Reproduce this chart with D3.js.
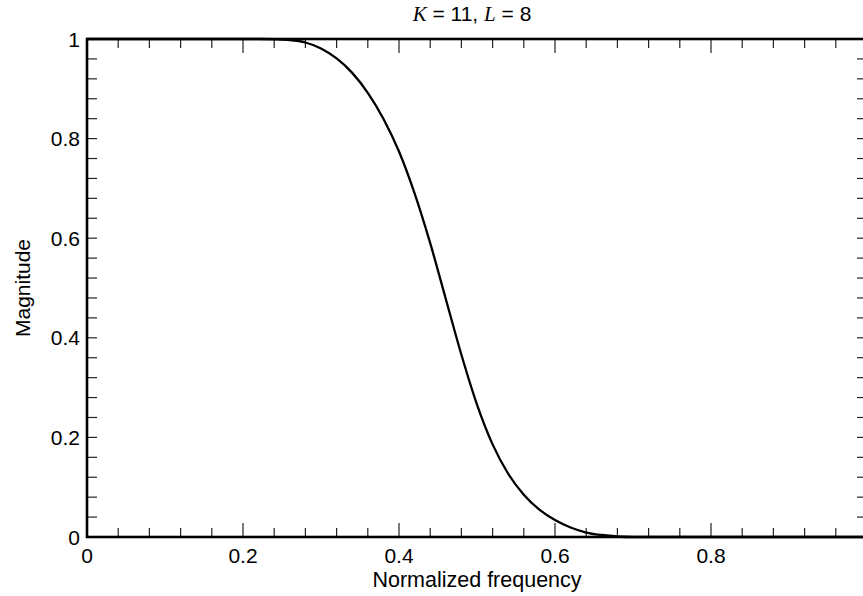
<!DOCTYPE html>
<html>
<head>
<meta charset="utf-8">
<script src="https://cdn.jsdelivr.net/npm/d3@7"></script>
<style>
  body { margin: 0; background: #fff; }
  text { font-family: "Liberation Sans", Arial, Helvetica, sans-serif; fill: #000; }
</style>
</head>
<body>
<svg id="chart"></svg>
<script>
// chart size
var width = 863,
    height = 596;

// data
var freq = [0, 0.10, 0.20, 0.22, 0.24, 0.26, 0.28, 0.30, 0.32, 0.34, 0.36, 0.38, 0.40, 0.42, 0.44,
    0.46, 0.48, 0.50, 0.52, 0.54, 0.56, 0.58, 0.60, 0.62, 0.64, 0.66, 0.68, 0.70, 0.80, 0.90, 1.0];
var magnitude = [1, 1, 1, 1, 0.9995, 0.998, 0.993, 0.981, 0.961, 0.932, 0.892, 0.840, 0.774, 0.690, 0.590,
    0.478, 0.366, 0.266, 0.186, 0.127, 0.085, 0.055, 0.034, 0.019, 0.009, 0.004, 0.001, 0, 0, 0, 0];

// ticks
var xMajor = [0, 0.2, 0.4, 0.6, 0.8];
var xLabels = ["0", "0.2", "0.4", "0.6", "0.8"];
var yMajor = [0, 0.2, 0.4, 0.6, 0.8, 1];
var yLabels = ["0", "0.2", "0.4", "0.6", "0.8", "1"];
var minorStep = 0.04;

var svg = d3.select("#chart")
    .attr("width", width)
    .attr("height", height);

// scales
var x = d3.scaleLinear().domain([0, 1]).range([87, 867]);
var y = d3.scaleLinear().domain([0, 1]).range([537, 39]);

var minorTicks = d3.range(0, 1.0001, minorStep).map(function (d) { return +d.toFixed(2); });
function isMajor(v) { return xMajor.concat([1]).some(function (m) { return Math.abs(m - v) < 1e-6; }); }

var ticks = svg.append("g").attr("stroke", "#222").attr("stroke-width", 1.2);

// bottom and top ticks (pointing inside)
minorTicks.forEach(function (v) {
    var len = isMajor(v) ? 14 : 9;
    ticks.append("line")
        .attr("x1", x(v)).attr("x2", x(v))
        .attr("y1", y(0)).attr("y2", y(0) - len);
    ticks.append("line")
        .attr("x1", x(v)).attr("x2", x(v))
        .attr("y1", y(1)).attr("y2", y(1) + len);
});

// left and right ticks
minorTicks.forEach(function (v) {
    ticks.append("line")
        .attr("x1", x(0)).attr("x2", x(0) + 10)
        .attr("y1", y(v)).attr("y2", y(v));
    ticks.append("line")
        .attr("x1", x(1)).attr("x2", x(1) - 10)
        .attr("y1", y(v)).attr("y2", y(v));
});

// the curve
var line = d3.line()
    .x(function (d, i) { return x(freq[i]); })
    .y(function (d) { return y(d); })
    .curve(d3.curveMonotoneX);

svg.append("path")
    .datum(magnitude)
    .attr("d", line)
    .attr("fill", "none")
    .attr("stroke", "#000")
    .attr("stroke-width", 2.3);

// frame
svg.append("rect")
    .attr("x", x(0)).attr("y", y(1))
    .attr("width", x(1) - x(0)).attr("height", y(0) - y(1))
    .attr("fill", "none")
    .attr("stroke", "#000")
    .attr("stroke-width", 2.6);

// tick labels
svg.selectAll(".xlab")
    .data(xMajor)
    .enter().append("text")
    .attr("class", "xlab")
    .attr("x", function (d) { return x(d); })
    .attr("y", 563)
    .attr("text-anchor", "middle")
    .style("font-size", "21px")
    .text(function (d, i) { return xLabels[i]; });

svg.selectAll(".ylab")
    .data(yMajor)
    .enter().append("text")
    .attr("class", "ylab")
    .attr("x", 80)
    .attr("y", function (d) { return y(d) + 7.5; })
    .attr("text-anchor", "end")
    .style("font-size", "21px")
    .text(function (d, i) { return yLabels[i]; });

// axis titles
svg.append("text")
    .attr("x", (x(0) + x(1)) / 2)
    .attr("y", 587)
    .attr("text-anchor", "middle")
    .style("font-size", "21.5px")
    .text("Normalized frequency");

svg.append("text")
    .attr("transform", "translate(30," + (y(0) + y(1)) / 2 + ") rotate(-90)")
    .attr("text-anchor", "middle")
    .style("font-size", "21px")
    .text("Magnitude");

// title with italic symbols
var title = svg.append("text")
    .attr("x", 472)
    .attr("y", 21)
    .attr("text-anchor", "middle")
    .style("font-size", "21px");
title.append("tspan").style("font-family", "'Liberation Serif', 'DejaVu Serif', serif").style("font-style", "italic").text("K");
title.append("tspan").text(" = 11, ");
title.append("tspan").style("font-family", "'Liberation Serif', 'DejaVu Serif', serif").style("font-style", "italic").text("L");
title.append("tspan").text(" = 8");
</script>
</body>
</html>
